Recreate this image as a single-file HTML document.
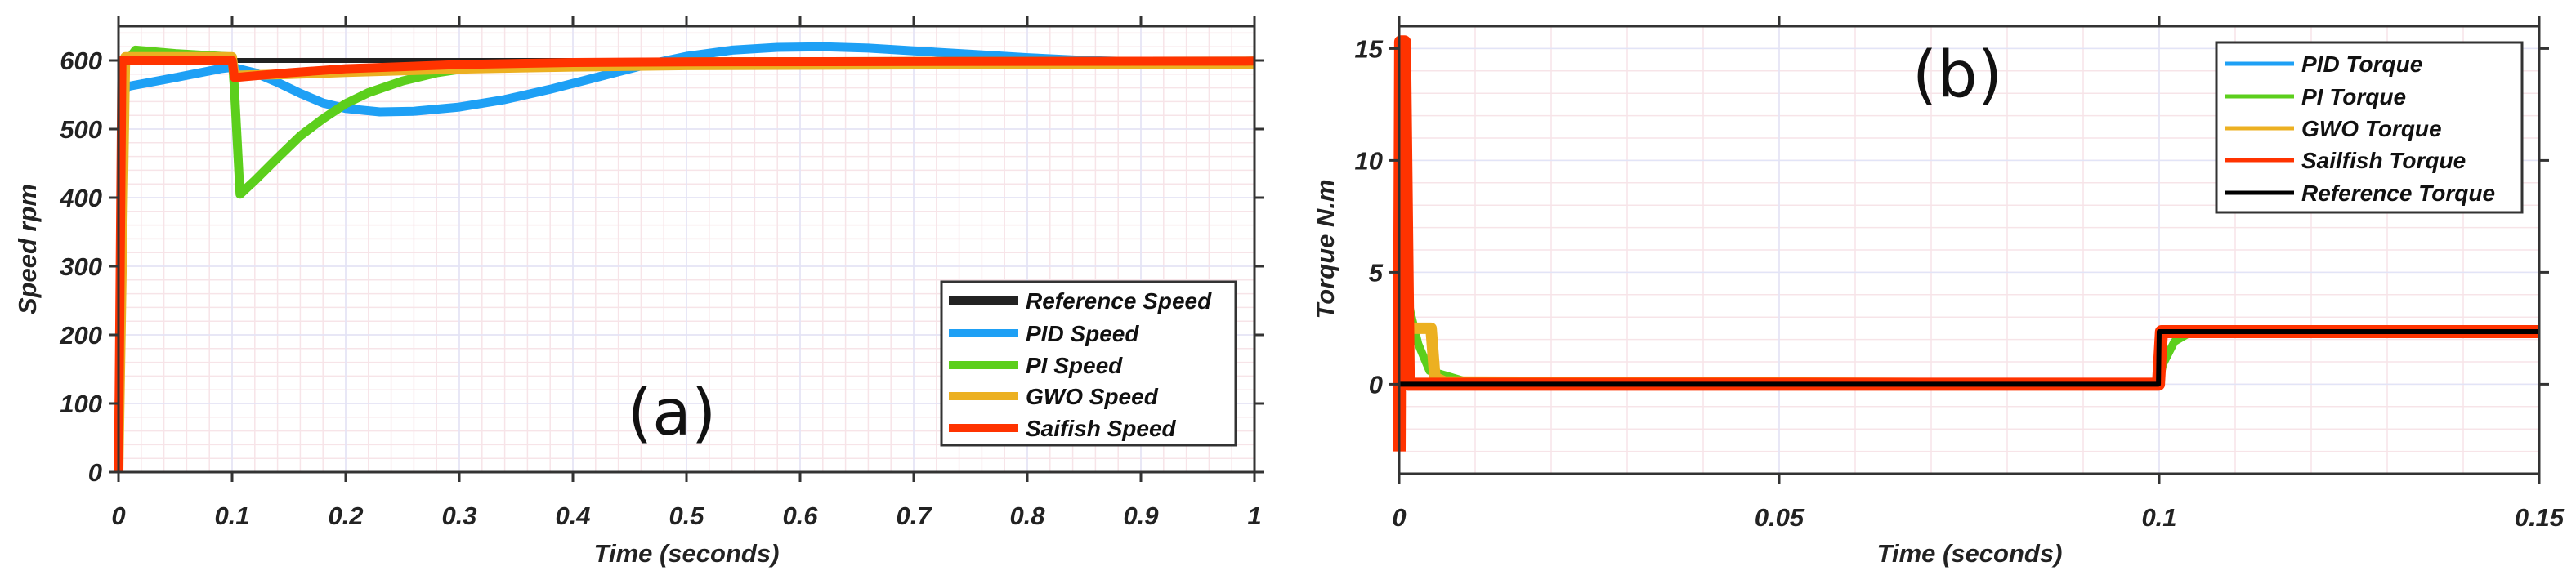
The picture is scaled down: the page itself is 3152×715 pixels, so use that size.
<!DOCTYPE html>
<html><head><meta charset="utf-8"><style>
body{margin:0;background:#fff;}
svg{display:block;font-family:"Liberation Sans",sans-serif;}
.tk{font-size:31px;font-weight:bold;font-style:italic;fill:#222;}
.at{font-size:31px;font-weight:bold;font-style:italic;fill:#222;}
.lg{font-size:28px;font-weight:bold;font-style:italic;fill:#111;}
</style></head><body>
<svg id="chart" width="3152" height="715" viewBox="0 0 3152 715">
<g id="pa"></g>
<g id="pb"></g>
</svg>
<script>
// Panel (a) speed data
const speedXTicks = [0,0.1,0.2,0.3,0.4,0.5,0.6,0.7,0.8,0.9,1];
const speedXLabels = ["0","0.1","0.2","0.3","0.4","0.5","0.6","0.7","0.8","0.9","1"];
const speedYTicks = [0,100,200,300,400,500,600];
const refSpeedT = [0,0.002,1];
const refSpeedV = [0,600,600];
const pidSpeedT = [0,0.004,0.008,0.05,0.09,0.1,0.12,0.14,0.16,0.18,0.2,0.23,0.26,0.3,0.34,0.38,0.42,0.46,0.5,0.54,0.58,0.62,0.66,0.7,0.75,0.8,0.85,0.9,0.95,1];
const pidSpeedV = [0,550,562,575,588,590,582,568,552,538,530,525,526,532,543,558,575,592,606,615,619,620,618,614,609,604,600,598,597,597];
const piSpeedT = [0,0.004,0.015,0.05,0.1,0.102,0.107,0.12,0.14,0.16,0.18,0.2,0.22,0.25,0.28,0.3,0.35,0.4,0.5,1];
const piSpeedV = [0,590,615,610,605,560,405,425,458,490,515,537,553,570,582,587,593,596,598,599];
const gwoSpeedT = [0,0.006,0.1,0.102,0.15,0.2,0.3,0.4,0.5,0.7,1];
const gwoSpeedV = [0,605,605,578,580,583,588,591,593,594,595];
const sfSpeedT = [0,0.003,0.1,0.102,0.15,0.2,0.3,0.4,0.5,1];
const sfSpeedV = [0,600,600,575,582,588,594,597,598,599];
// Panel (b) torque data
const torqueXTicks = [0,0.05,0.1,0.15];
const torqueXLabels = ["0","0.05","0.1","0.15"];
const torqueYTicks = [0,5,10,15];
const refTorqueT = [0,0.0004,0.0999,0.1,0.15];
const refTorqueV = [0,0,0,2.35,2.35];
const pidTorqueT = [0,0.0006,0.0008,0.0012,0.0999,0.1003,0.15];
const pidTorqueV = [0,10.3,10.3,0,0,2.35,2.35];
const piTorqueT = [0,0.0008,0.0015,0.0025,0.004,0.006,0.009,0.0999,0.1005,0.102,0.104,0.15];
const piTorqueV = [0,4.5,3.2,1.8,0.6,0.4,0.1,0,0.9,1.9,2.3,2.35];
const gwoTorqueT = [0,0.0008,0.0042,0.0047,0.006,0.0999,0.1003,0.15];
const gwoTorqueV = [0,2.5,2.5,0.3,0.1,0,2.35,2.35];
const sfTorqueT = [0,0.0002,0.0007,0.0012,0.0999,0.1003,0.15];
const sfTorqueV = [-3,15.3,15.3,0,0,2.35,2.35];

const NS='http://www.w3.org/2000/svg';
function mk(parent,tag,attrs){const e=document.createElementNS(NS,tag);for(const k in attrs)e.setAttribute(k,attrs[k]);parent.appendChild(e);return e;}

function panel(g,cfg){
  const {x0,x1,y0,y1,xmin,xmax,ymin,ymax}=cfg;
  const sx=v=>x0+(v-xmin)/(xmax-xmin)*(x1-x0);
  const sy=v=>y1-(v-ymin)/(ymax-ymin)*(y1-y0);
  const grid=mk(g,'g',{});
  
  
  for(let v=xmin;v<=xmax+1e-9;v+=cfg.xminor){mk(grid,'line',{x1:sx(v),x2:sx(v),y1:y0,y2:y1,stroke:'#f7e4e8','stroke-width':1.5});}
  for(let v=ymin;v<=ymax+1e-9;v+=cfg.yminor){mk(grid,'line',{x1:x0,x2:x1,y1:sy(v),y2:sy(v),stroke:'#f7e4e8','stroke-width':1.5});}
  cfg.xticks.forEach(v=>mk(grid,'line',{x1:sx(v),x2:sx(v),y1:y0,y2:y1,stroke:'#e2e4f7','stroke-width':1.5}));
  cfg.yticks.forEach(v=>mk(grid,'line',{x1:x0,x2:x1,y1:sy(v),y2:sy(v),stroke:'#e2e4f7','stroke-width':1.5}));
  const lines=mk(g,'g',{'clip-path':'url(#'+cfg.clip+')'});
  cfg.series.forEach(s=>{
    const p=s.t.map((t,i)=>(i?'L':'M')+sx(t).toFixed(1)+','+sy(s.v[i]).toFixed(1)).join('');
    const el=mk(lines,'path',{d:p,fill:'none',stroke:s.c,'stroke-width':s.w,'stroke-linejoin':'round'});
    
    
  });
  const ax=mk(g,'g',{stroke:'#333','stroke-width':3,fill:'none'});
  
  
  mk(ax,'rect',{x:x0,y:y0,width:x1-x0,height:y1-y0});
  cfg.xticks.forEach((v,i)=>{
    mk(ax,'line',{x1:sx(v),x2:sx(v),y1:y1,y2:y1+12});
    mk(ax,'line',{x1:sx(v),x2:sx(v),y1:y0,y2:y0-12});
    const t=mk(g,'text',{x:sx(v),y:y1+64,'text-anchor':'middle',class:'tk'});t.textContent=cfg.xlabels[i];
    
    
  });
  cfg.yticks.forEach(v=>{
    mk(ax,'line',{x1:x0,x2:x0-12,y1:sy(v),y2:sy(v)});
    mk(ax,'line',{x1:x1,x2:x1+12,y1:sy(v),y2:sy(v)});
    const t=mk(g,'text',{x:x0-20,y:sy(v)+11,'text-anchor':'end',class:'tk'});t.textContent=String(v);
    
    
  });
}
const svg=document.getElementById('chart');
const defs=mk(svg,'defs',{});
const c1=mk(defs,'clipPath',{id:'ca'});mk(c1,'rect',{x:140,y:32,width:1400,height:548});
const c2=mk(defs,'clipPath',{id:'cb'});mk(c2,'rect',{x:1705,y:32,width:1405,height:548});

panel(document.getElementById('pa'),{x0:145,x1:1535,y0:32,y1:578,xmin:0,xmax:1,ymin:0,ymax:650,xminor:0.02,yminor:20,
  xticks:speedXTicks,xlabels:speedXLabels,yticks:speedYTicks,clip:'ca',
  series:[
   {name:'reference-speed-line',t:refSpeedT,v:refSpeedV,c:'#222',w:6},
   {name:'pid-speed-line',t:pidSpeedT,v:pidSpeedV,c:'#1ea0f5',w:11},
   {name:'pi-speed-line',t:piSpeedT,v:piSpeedV,c:'#5ccf1c',w:11},
   {name:'gwo-speed-line',t:gwoSpeedT,v:gwoSpeedV,c:'#ecb021',w:12},
   {name:'sailfish-speed-line',t:sfSpeedT,v:sfSpeedV,c:'#ff3300',w:11}]});
panel(document.getElementById('pb'),{x0:1712,x1:3107,y0:32,y1:580,xmin:0,xmax:0.15,ymin:-4,ymax:16,xminor:0.01,yminor:1,
  xticks:torqueXTicks,xlabels:torqueXLabels,yticks:torqueYTicks,clip:'cb',
  series:[
   {name:'pid-torque-line',t:pidTorqueT,v:pidTorqueV,c:'#1ea0f5',w:6},
   {name:'pi-torque-line',t:piTorqueT,v:piTorqueV,c:'#5ccf1c',w:10},
   {name:'gwo-torque-line',t:gwoTorqueT,v:gwoTorqueV,c:'#ecb021',w:14},
   {name:'sailfish-torque-line',t:sfTorqueT,v:sfTorqueV,c:'#ff3300',w:16},
   {name:'reference-torque-line',t:refTorqueT,v:refTorqueV,c:'#000',w:6}]});

// legends
function legend(name,bx,by,bw,bh,lx1,lx2,tx,rows,items,lw){
  const g=mk(svg,'g',{});
  
  
  mk(g,'rect',{x:bx,y:by,width:bw,height:bh,fill:'#fff',stroke:'#333','stroke-width':3});
  items.forEach((it,i)=>{
    const e=mk(g,'g',{});
    
    
    mk(e,'line',{x1:lx1,x2:lx2,y1:rows[i],y2:rows[i],stroke:it[1],'stroke-width':lw});
    const t=mk(e,'text',{x:tx,y:rows[i]+10,class:'lg'});t.textContent=it[0];
  });
}
legend('speed-legend',1152,345,360,200,1161,1246,1255,[368,408,447,485,524],
 [['Reference Speed','#222'],['PID Speed','#1ea0f5'],['PI Speed','#5ccf1c'],['GWO Speed','#ecb021'],['Saifish Speed','#ff3300']],10);
legend('torque-legend',2712,52,374,208,2722,2807,2816,[78,118,157,196,236],
 [['PID Torque','#1ea0f5'],['PI Torque','#5ccf1c'],['GWO Torque','#ecb021'],['Sailfish Torque','#ff3300'],['Reference Torque','#000']],5);
</script>
<div style="position:absolute;left:0;top:0;width:3152px;height:715px;pointer-events:none">
<svg width="3152" height="715" style="position:absolute;left:0;top:0">
<text x="840" y="688" text-anchor="middle" class="at">Time (seconds)</text>
<text x="2410" y="688" text-anchor="middle" class="at">Time (seconds)</text>
<text transform="translate(44,305) rotate(-90)" text-anchor="middle" class="at">Speed rpm</text>
<text transform="translate(1632,305) rotate(-90)" text-anchor="middle" class="at">Torque N.m</text>
<text x="822" y="532" text-anchor="middle" style="font-family:'DejaVu Sans','Liberation Sans',sans-serif;font-size:78px;fill:#111">(a)</text>
<text x="2395" y="118" text-anchor="middle" style="font-family:'DejaVu Sans','Liberation Sans',sans-serif;font-size:78px;fill:#111">(b)</text>
</svg></div>
</body></html>
